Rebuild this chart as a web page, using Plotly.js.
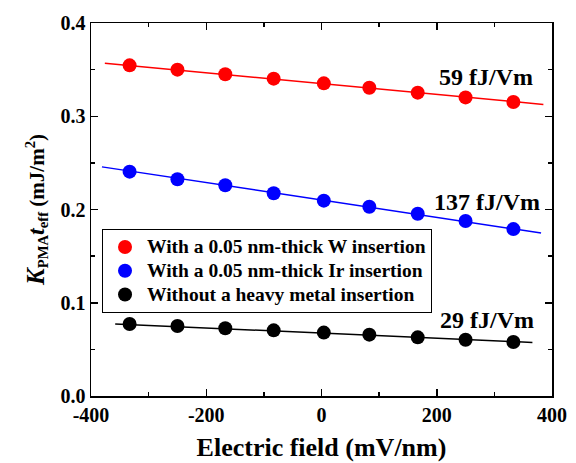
<!DOCTYPE html>
<html>
<head>
<meta charset="utf-8">
<script src="https://cdn.plot.ly/plotly-3.0.1.min.js"></script>
<style>html,body{margin:0;padding:0;background:#fff;}#chart{width:576px;height:463px;}</style>
</head>
<body>
<div id="chart"></div>
<script>
// Electric field (mV/nm)
var fieldX = [-333, -250, -167, -83, 4, 83, 167, 250, 333];
// K_PMA t_eff (mJ/m^2)
var wInsertion  = [0.3546, 0.3500, 0.3450, 0.3403, 0.3353, 0.3306, 0.3253, 0.3202, 0.3153];
var irInsertion = [0.2406, 0.2325, 0.2260, 0.2174, 0.2095, 0.2030, 0.1955, 0.1876, 0.1790];
var noInsertion = [0.0772, 0.0751, 0.0726, 0.0704, 0.0680, 0.0658, 0.0629, 0.0604, 0.0579];
// linear fits (endpoints)
var wFitX  = [-376, 385],  wFitY  = [0.3568, 0.3127];
var irFitX = [-381, 381],  irFitY = [0.2457, 0.1747];
var noFitX = [-358, 366],  noFitY = [0.0772, 0.0575];
var seriesNames = ['With a 0.05 nm-thick W insertion', 'With a 0.05 nm-thick Ir insertion', 'Without a heavy metal insertion'];
var slopeLabels = ['59 fJ/Vm', '137 fJ/Vm', '29 fJ/Vm'];
var labelX = [285, 287, 287];
var labelY = [0.3417, 0.2084, 0.0812];
var colors = ['#ff0000', '#0000ff', '#000000'];

var font = 'Liberation Serif, Times New Roman, serif';
var ys = [wInsertion, irInsertion, noInsertion];
var fx = [wFitX, irFitX, noFitX], fy = [wFitY, irFitY, noFitY];
var traces = [];
for (var i = 0; i < 3; i++) {
  traces.push({x: fx[i], y: fy[i], mode: 'lines', line: {color: colors[i], width: 1.5}, showlegend: false, hoverinfo: 'skip'});
}
for (var i = 0; i < 3; i++) {
  traces.push({x: fieldX, y: ys[i], mode: 'markers', name: '<span style="font-size:19.5px"><b>' + seriesNames[i] + '</b></span>', marker: {color: colors[i], size: 14}});
}
var annotations = [];
for (var i = 0; i < 3; i++) {
  annotations.push({x: labelX[i], y: labelY[i], xref: 'x', yref: 'y', text: '<b>' + slopeLabels[i] + '</b>', showarrow: false, font: {family: font, size: 24, color: '#000'}});
}
var axisCommon = {showline: true, linecolor: '#000', linewidth: 1.5, mirror: 'ticks', ticks: 'inside', ticklen: 7, tickwidth: 1.5, tickcolor: '#000', showgrid: false, zeroline: false, tickfont: {family: font, size: 20, color: '#000'}};
var layout = {
  width: 576, height: 463,
  margin: {l: 91, r: 24, t: 23, b: 67},
  paper_bgcolor: '#fff', plot_bgcolor: '#fff',
  showlegend: true,
  font: {family: font, color: '#000'},
  xaxis: Object.assign({}, axisCommon, {range: [-400, 400], tickvals: [-400, -200, 0, 200, 400], ticktext: ['<b>-400</b>', '<b>-200</b>', '<b>0</b>', '<b>200</b>', '<b>400</b>'], minor: {dtick: 100, ticks: 'inside', ticklen: 4, tickwidth: 1.5, tickcolor: '#000'}, title: {text: '<b>Electric field (mV/nm)</b>', font: {family: font, size: 26, color: '#000'}, standoff: 13}}),
  yaxis: Object.assign({}, axisCommon, {range: [0, 0.4], tickvals: [0, 0.1, 0.2, 0.3, 0.4], ticktext: ['<b>0.0</b>', '<b>0.1</b>', '<b>0.2</b>', '<b>0.3</b>', '<b>0.4</b>'], minor: {dtick: 0.05, ticks: 'inside', ticklen: 4, tickwidth: 1.5, tickcolor: '#000'}, title: {text: '<b><i><span style="font-size:25px">K</span></i><sub>PMA</sub><i><span style="font-size:24px">t</span></i><sub>eff</sub> (mJ/m<sup>2</sup>)</b>', font: {family: font, size: 21, color: '#000'}, standoff: 10}}),
  legend: {x: 0.0239, y: 0.4476, xanchor: 'left', yanchor: 'top', bordercolor: '#000', borderwidth: 1, bgcolor: '#fff', font: {family: font, size: 16, color: '#000'}, tracegroupgap: 0, itemwidth: 34},
  annotations: annotations
};
Plotly.newPlot('chart', traces, layout, {displayModeBar: false, staticPlot: true});
</script>
</body>
</html>
